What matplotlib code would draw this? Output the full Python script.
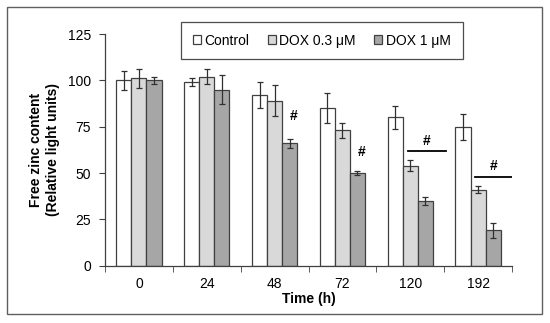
import matplotlib
matplotlib.use("Agg")
import matplotlib.pyplot as plt
import numpy as np
from matplotlib.patches import Rectangle

plt.rcParams['font.family'] = ['Liberation Sans', 'DejaVu Sans']

categories = ['0', '24', '48', '72', '120', '192']
series_names = ['Control', 'DOX 0.3 μM', 'DOX 1 μM']
control = [100, 99, 92, 85, 80, 75]
control_err = [5, 2, 7, 8, 6, 7]
dox03 = [101, 102, 89, 73, 54, 41]
dox03_err = [5, 4, 8.5, 4, 3, 2]
dox1 = [100, 95, 66, 50, 35, 19]
dox1_err = [2, 8, 2.5, 1, 2, 4]
yticks = [0, 25, 50, 75, 100, 125]

fig = plt.figure(figsize=(5.5, 3.23), dpi=100)
ax = fig.add_axes([105/550, 1-265.7/323, (512-105)/550, (265.7-34)/323])

colors = ['#ffffff', '#d9d9d9', '#a6a6a6']
edge = '#404040'
x = np.arange(len(categories))
w = 0.222
vals = [control, dox03, dox1]
errs = [control_err, dox03_err, dox1_err]
for i, (v, e, c, n) in enumerate(zip(vals, errs, colors, series_names)):
    ax.bar(x + (i-1)*w, v, w, color=c, edgecolor=edge, linewidth=0.9, label=n,
           yerr=e, capsize=2.5, error_kw=dict(ecolor='#303030', elinewidth=0.9, capthick=0.9), zorder=2)

ax.set_xlim(-0.5, len(categories)-0.5)
ax.set_ylim(0, 125)
ax.set_yticks(yticks)
ax.set_xticks(x)
ax.set_xticklabels(categories)
ax.set_xticks(np.arange(-0.5, len(categories), 1), minor=True)
ax.tick_params(axis='x', which='major', length=0, labelsize=10, pad=8)
ax.tick_params(axis='x', which='minor', length=4, direction='out', color='#404040')
ax.tick_params(axis='y', length=4, direction='out', labelsize=10, color='#404040', pad=6)
for s in ['top', 'right']:
    ax.spines[s].set_visible(False)
for s in ['left', 'bottom']:
    ax.spines[s].set_color('#404040')
    ax.spines[s].set_linewidth(0.9)

ax.set_xlabel('Time (h)', fontsize=10, fontweight='bold', labelpad=1)
ax.set_ylabel('Free zinc content\n(Relative light units)', fontsize=10, fontweight='bold', labelpad=6)

# significance marks
ax.text(2 + 1.25*w, 81, '#', ha='center', va='center', fontsize=10, fontweight='bold')
ax.text(3 + 1.25*w, 61.5, '#', ha='center', va='center', fontsize=10, fontweight='bold')
ax.plot([4 - 0.04, 4 + 0.52], [62, 62], color='black', lw=1.3)
ax.text(4 + 0.24, 67.5, '#', ha='center', va='center', fontsize=10, fontweight='bold')
ax.plot([5 - 0.04, 5 + 0.5], [47.7, 47.7], color='black', lw=1.3)
ax.text(5 + 0.23, 54, '#', ha='center', va='center', fontsize=10, fontweight='bold')

leg = ax.legend(loc='upper left', bbox_to_anchor=((181-105)/407, 1 - (21.7-34)/231.7),
                ncol=3, frameon=True, fancybox=False, fontsize=10, borderaxespad=0,
                handlelength=0.6, handleheight=0.6, handletextpad=0.25, columnspacing=1.3,
                borderpad=0.85, edgecolor='#202020')
leg.get_frame().set_linewidth(0.9)

fig.patches.append(Rectangle((7/550, 1-314/323), (542-7)/550, (314-7)/323, transform=fig.transFigure,
                             fill=False, edgecolor='#606060', linewidth=1))

fig.savefig('out.png', dpi=100)
